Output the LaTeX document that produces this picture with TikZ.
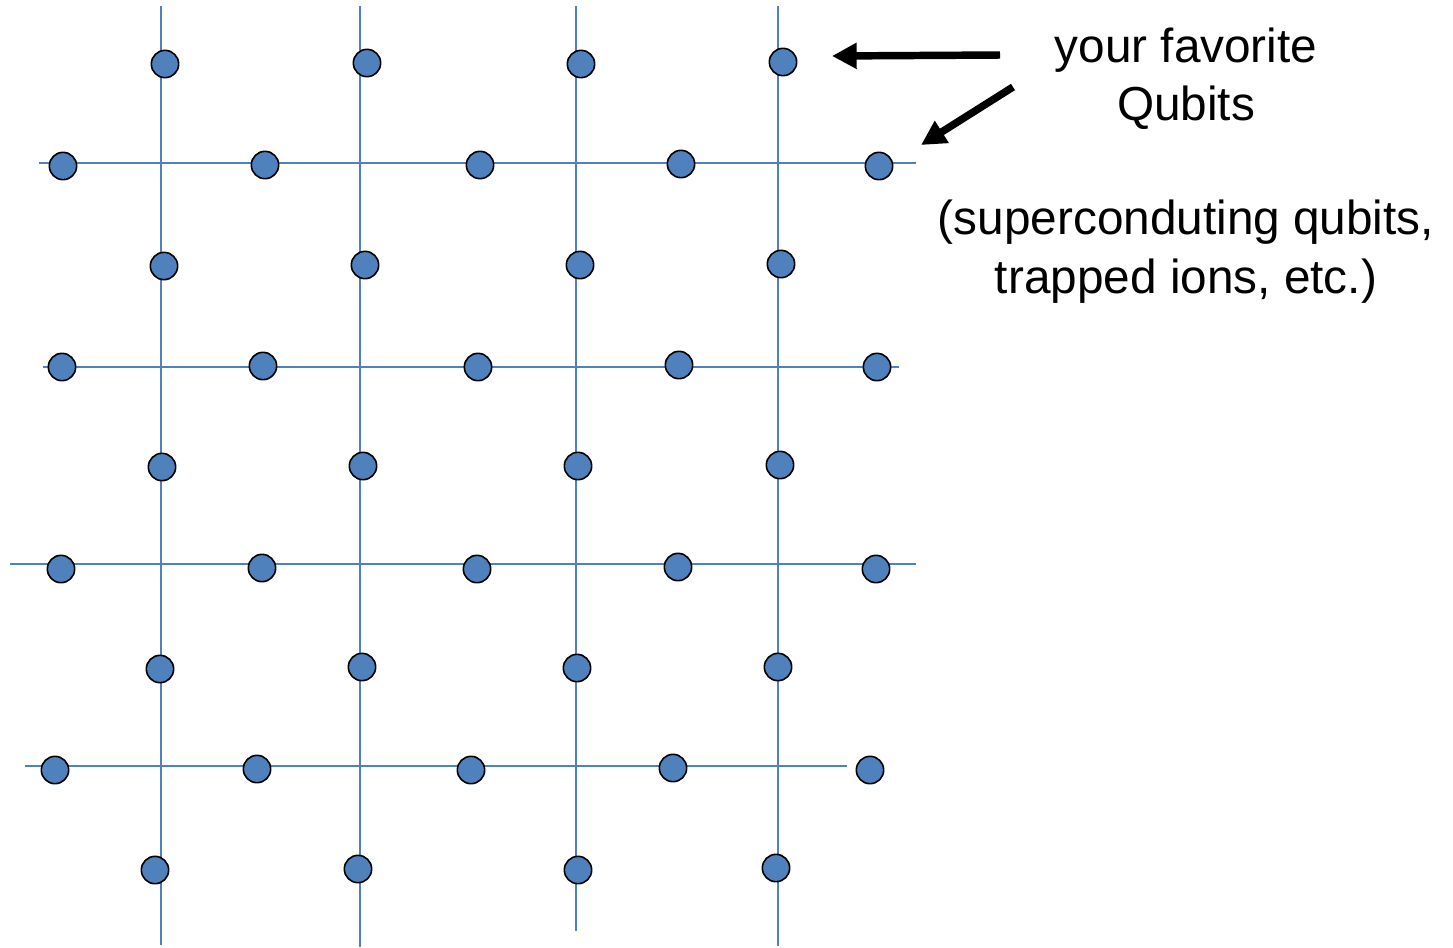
\documentclass[tikz,border=0pt]{standalone}
\usepackage{fontspec}
\setmainfont{Liberation Sans}
\usetikzlibrary{arrows.meta}
\definecolor{gridblue}{RGB}{79,129,189}
\definecolor{qfill}{RGB}{79,129,189}
\begin{document}
\begin{tikzpicture}[x=0.75pt,y=-0.75pt,
  gridline/.style={draw=gridblue,line width=1.5pt},
  qubit/.style={circle,draw=black,line width=1.2pt,fill=qfill,minimum size=20.5pt,inner sep=0pt,outer sep=0pt},
  pointer/.style={draw=black,line width=5.6pt,-{Triangle[length=18.5pt,width=18.5pt]}},
  lbl/.style={anchor=base,inner sep=0pt,font=\fontsize{35.8}{43}\selectfont}]
\useasboundingbox (0,0) rectangle (1453,947);
% grid line end points
\coordinate (v1t) at (161,6);   \coordinate (v1b) at (161,945);
\coordinate (v2t) at (360,6);   \coordinate (v2b) at (360,947);
\coordinate (v3t) at (576,6);   \coordinate (v3b) at (576,931);
\coordinate (v4t) at (778,6);   \coordinate (v4b) at (778,946);
\coordinate (h1l) at (39,163);  \coordinate (h1r) at (916,163);
\coordinate (h2l) at (43,367);  \coordinate (h2r) at (899,367);
\coordinate (h3l) at (10,564);  \coordinate (h3r) at (916,564);
\coordinate (h4l) at (25,766);  \coordinate (h4r) at (847,766);
\draw[gridline] (v1t) -- (v1b);
\draw[gridline] (v2t) -- (v2b);
\draw[gridline] (v3t) -- (v3b);
\draw[gridline] (v4t) -- (v4b);
\draw[gridline] (h1l) -- (h1r);
\draw[gridline] (h2l) -- (h2r);
\draw[gridline] (h3l) -- (h3r);
\draw[gridline] (h4l) -- (h4r);
% qubits
\node[qubit] (q11) at (165,64) {};
\node[qubit] (q12) at (367,63) {};
\node[qubit] (q13) at (581,64) {};
\node[qubit] (q14) at (783,62) {};
\node[qubit] (q21) at (63,166) {};
\node[qubit] (q22) at (265,165) {};
\node[qubit] (q23) at (480,165) {};
\node[qubit] (q24) at (681,164) {};
\node[qubit] (q25) at (879,166) {};
\node[qubit] (q31) at (164,266) {};
\node[qubit] (q32) at (365,265) {};
\node[qubit] (q33) at (580,265) {};
\node[qubit] (q34) at (781,264) {};
\node[qubit] (q41) at (62,367) {};
\node[qubit] (q42) at (263,366) {};
\node[qubit] (q43) at (478,367) {};
\node[qubit] (q44) at (679,365) {};
\node[qubit] (q45) at (877,367) {};
\node[qubit] (q51) at (162,467) {};
\node[qubit] (q52) at (363,466) {};
\node[qubit] (q53) at (578,466) {};
\node[qubit] (q54) at (780,465) {};
\node[qubit] (q61) at (61,569) {};
\node[qubit] (q62) at (262,568) {};
\node[qubit] (q63) at (477,569) {};
\node[qubit] (q64) at (678,567) {};
\node[qubit] (q65) at (876,569) {};
\node[qubit] (q71) at (160,669) {};
\node[qubit] (q72) at (362,667) {};
\node[qubit] (q73) at (577,668) {};
\node[qubit] (q74) at (778,667) {};
\node[qubit] (q81) at (55,770) {};
\node[qubit] (q82) at (257,769) {};
\node[qubit] (q83) at (471,770) {};
\node[qubit] (q84) at (673,768) {};
\node[qubit] (q85) at (870,770) {};
\node[qubit] (q91) at (155,870) {};
\node[qubit] (q92) at (358,869) {};
\node[qubit] (q93) at (578,870) {};
\node[qubit] (q94) at (776,868) {};
% labels
\node[lbl] (t1) at (1186,62) {your favorite};
\node[lbl] (t2) at (1186,120) {Qubits};
\node[lbl] (t3) at (1186,234) {(superconduting qubits,};
\node[lbl] (t4) at (1186,293) {trapped ions, etc.)};
% arrows
\coordinate (a1s) at (1000,55);
\coordinate (a1e) at (832,56);
\coordinate (a2s) at (1013,87);
\coordinate (a2e) at (921,145);
\draw[pointer] (a1s) -- (a1e);
\draw[pointer] (a2s) -- (a2e);
\end{tikzpicture}
\end{document}
